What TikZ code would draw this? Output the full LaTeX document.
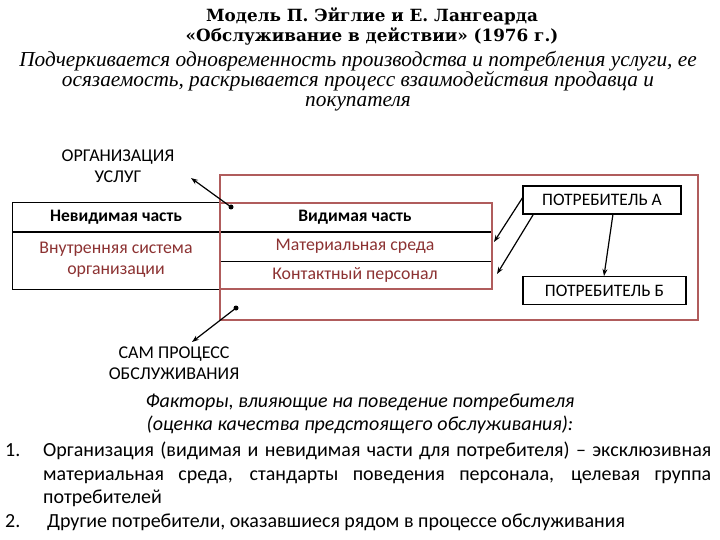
\documentclass[tikz,border=0pt]{standalone}
\usepackage{fontspec}
\setmainfont{Carlito}
\newfontfamily\titlefont{DejaVu Serif}
\newfontfamily\itfont{Liberation Serif}
\usetikzlibrary{arrows.meta}
\definecolor{frameRed}{RGB}{176,92,92}
\definecolor{txtRed}{RGB}{140,50,50}
\tikzset{
  lbl/.style={inner sep=0pt, align=center, font=\fontsize{18}{21}\selectfont},
  boxlbl/.style={draw=black, line width=1.2pt, minimum height=28pt, inner sep=0pt, font=\fontsize{17.5}{18}\selectfont},
  cell/.style={inner sep=0pt, font=\fontsize{17.8}{21}\selectfont},
  arr/.style={-{Stealth[length=7pt,width=5pt]}, line width=1.2pt},
  dot/.style={circle, fill=black, inner sep=0pt, minimum size=5pt},
  frame/.style={draw=frameRed, line width=2.6pt},
  body/.style={inner sep=0pt, font=\fontsize{20}{23.5}\selectfont},
}
\begin{document}
\begin{tikzpicture}[x=1pt,y=-1pt]
\useasboundingbox (0,0) rectangle (720,540);
% titles
\node[inner sep=0pt, align=center, font=\titlefont\bfseries\fontsize{16.8}{20.5}\selectfont] (t) at (372,26.5) {Модель П. Эйглие и Е. Лангеарда\\«Обслуживание в действии» (1976 г.)};
\node[inner sep=0pt, align=center, font=\itfont\itshape\fontsize{21.3}{20}\selectfont] (s) at (358,81) {Подчеркивается одновременность производства и потребления услуги, ее\\осязаемость, раскрывается процесс взаимодействия продавца и\\покупателя};

% left black box
\draw[line width=1pt] (220,203) -- (12,203) -- (12,289) -- (220,289);
\draw[line width=1pt] (12,232) -- (492,232);
\draw[line width=1pt] (220,261) -- (492,261);
% frames
\draw[frame] (220,175) rectangle (698,320);
\draw[frame] (220,203) rectangle (492,289);

\node[cell, font=\bfseries\fontsize{17.5}{21}\selectfont] (inv) at (116,217) {Невидимая часть};
\node[cell, text=txtRed, align=center] (sys) at (116,260) {Внутренняя система\\организации};
\node[cell, font=\bfseries\fontsize{17.5}{21}\selectfont] (vis) at (355,217) {Видимая часть};
\node[cell, text=txtRed] (mat) at (355,246) {Материальная среда};
\node[cell, text=txtRed] (pers) at (355,275) {Контактный персонал};

% consumers
\node[boxlbl, minimum width=158pt] (pa) at (602,200) {ПОТРЕБИТЕЛЬ А};
\node[boxlbl, minimum width=163pt] (pb) at (604.5,290.5) {ПОТРЕБИТЕЛЬ Б};

% labels
\node[lbl] (org) at (118,166) {ОРГАНИЗАЦИЯ\\УСЛУГ};
\node[lbl] (proc) at (174,363) {САМ ПРОЦЕСС\\ОБСЛУЖИВАНИЯ};

% connectors
\node[dot] (d1) at (231,207) {};
\node[dot] (d2) at (236,308) {};
\coordinate (o1) at (191,178);
\coordinate (o2) at (192,342);
\draw[arr] (d1.center) -- (o1);
\draw[arr] (d2.center) -- (o2);
\coordinate (pa1) at (523,197);
\coordinate (pa2) at (533,215);
\coordinate (pa3) at (613,214);
\coordinate (m1) at (494,242);
\coordinate (m2) at (497,274);
\coordinate (pb1) at (604,276);
\draw[arr] (pa1) -- (m1);
\draw[arr] (pa2) -- (m2);
\draw[arr] (pa3) -- (pb1);

% bottom text
\node[body, align=center, font=\itshape\fontsize{20}{23}\selectfont] (f) at (360,414) {Факторы, влияющие на поведение потребителя\\(оценка качества предстоящего обслуживания):};
\node[body, anchor=north west, text width=706pt, align=justify] (list) at (5,442) {%
\tolerance=9999\parfillskip=0pt plus 1fil\rightskip=0pt\leftskip=0pt
\noindent\hangindent=38pt\hangafter=1\makebox[38pt][l]{1.}Организация (видимая и невидимая части для потребителя) – эксклюзивная материальная среда, стандарты поведения персонала, целевая группа потребителей\par
\noindent\makebox[42pt][l]{2.}Другие потребители, оказавшиеся рядом в процессе обслуживания\par};
\end{tikzpicture}
\end{document}
